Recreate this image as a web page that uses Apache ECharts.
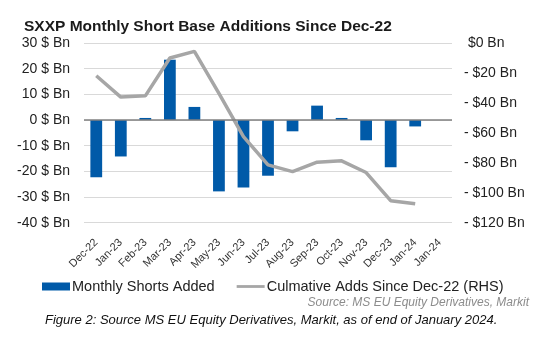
<!DOCTYPE html>
<html><head><meta charset="utf-8">
<script src="https://cdn.jsdelivr.net/npm/echarts@6/dist/echarts.min.js"></script>
<style>html,body{margin:0;padding:0;background:#fff}#c{width:549px;height:342px}</style>
</head><body><div id="c"></div>
<script>
const categories = ['Dec-22','Jan-23','Feb-23','Mar-23','Apr-23','May-23','Jun-23','Jul-23','Aug-23','Sep-23','Oct-23','Nov-23','Dec-23','Jan-24','Jan-24'];
const monthlyShorts = [-22.3, -14.2, 0.8, 23.5, 5.1, -27.8, -26.3, -21.7, -4.4, 5.6, 0.8, -7.9, -18.4, -2.5, null];
const cumulativeAdds = [-21.9, -36.1, -35.3, -10.0, -5.6, -33.7, -62.5, -81.4, -85.9, -79.6, -78.7, -86.5, -105.3, -107.3, null];
const leftTicks = {min: -40, max: 30, interval: 10};
const rightTicks = {min: -120, max: 0, interval: 20};
const seriesNames = ['Monthly Shorts Added', 'Culmative Adds Since Dec-22 (RHS)'];
const titleText = 'SXXP Monthly Short Base Additions Since Dec-22';
const sourceText = 'Source: MS EU Equity Derivatives, Markit';
const captionText = 'Figure 2: Source MS EU Equity Derivatives, Markit, as of end of January 2024.';

const FONT = '"Liberation Sans", Arial, sans-serif';
const chart = echarts.init(document.getElementById('c'), null, {renderer: 'canvas'});
chart.setOption({
  animation: false,
  textStyle: {fontFamily: FONT},
  title: {text: titleText, left: 19, top: 14,
    textStyle: {fontFamily: FONT, fontSize: 15.5, fontWeight: 'bold', color: '#1a1a1a'}},
  graphic: [
    {type: 'text', right: 20, top: 297, style: {text: sourceText, font: 'italic 12px ' + FONT, fill: '#8c8c8c'}},
    {type: 'text', left: 45, top: 314, style: {text: captionText, font: 'italic 13px ' + FONT, fill: '#111'}}
  ],
  legend: {left: 37, top: 274, itemWidth: 28, itemHeight: 8, itemGap: 22,
    textStyle: {fontFamily: FONT, fontSize: 14.5, color: '#222', padding: [0,0,0,-3]},
    data: [{name: seriesNames[0], icon: 'rect'},
           {name: seriesNames[1], icon: 'path://M0,0 H30 V3 H0 Z'}]},
  grid: {left: 84, right: 97, top: 43, bottom: 119.3},
  xAxis: {type: 'category', data: categories,
    axisLine: {show: false, onZero: false}, axisTick: {show: false},
    axisLabel: {rotate: 45, interval: 0, fontSize: 11, color: '#333', margin: 18, fontFamily: FONT}},
  yAxis: [
    {type: 'value', min: leftTicks.min, max: leftTicks.max, interval: leftTicks.interval,
      axisLabel: {formatter: v => v + ' $ Bn', fontSize: 14, color: '#222', margin: 14, fontFamily: FONT},
      axisLine: {show: false}, axisTick: {show: false},
      splitLine: {lineStyle: {color: '#d9d9d9', width: 1}}},
    {type: 'value', min: rightTicks.min, max: rightTicks.max, interval: rightTicks.interval, position: 'right',
      axisLabel: {formatter: v => v === 0 ? ' $0 Bn' : '- $' + Math.abs(v) + ' Bn', fontSize: 14, color: '#222', margin: 12, align: 'left', fontFamily: FONT},
      axisLine: {show: false}, axisTick: {show: false}, splitLine: {show: false}}
  ],
  series: [
    {name: seriesNames[0], type: 'bar', yAxisIndex: 0, data: monthlyShorts, barWidth: '48%',
      itemStyle: {color: '#005aa8'},
      markLine: {silent: true, symbol: 'none', label: {show: false},
        lineStyle: {color: '#808080', width: 1.5, type: 'solid'}, data: [{yAxis: 0}]}},
    {name: seriesNames[1], type: 'line', yAxisIndex: 1, data: cumulativeAdds, symbol: 'none',
      lineStyle: {color: '#a6a6a6', width: 3.5}, itemStyle: {color: '#a6a6a6'}, z: 3}
  ]
});
</script></body></html>
